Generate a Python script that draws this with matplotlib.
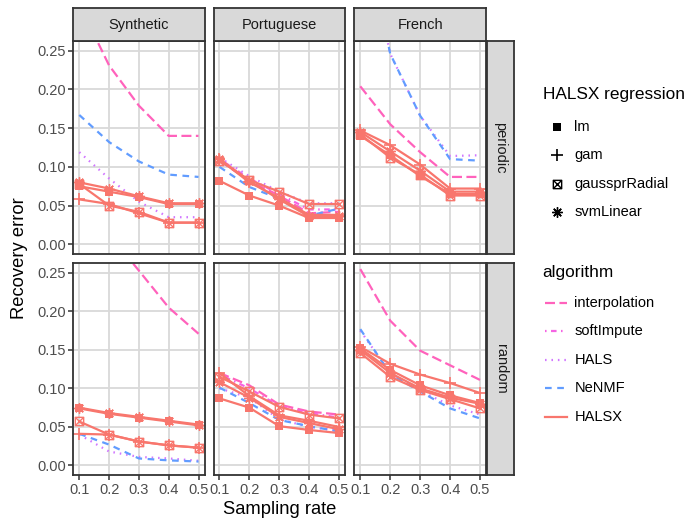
import matplotlib
matplotlib.use("Agg")
import matplotlib.pyplot as plt
from matplotlib.path import Path

plt.rcParams['font.family'] = ['Liberation Sans', 'DejaVu Sans']

# ---- data ----
rates = [0.1, 0.2, 0.3, 0.4, 0.5]
datasets = ["Synthetic", "Portuguese", "French"]
samplings = ["periodic", "random"]

# each list: [Synthetic, Portuguese, French]
interpolation_periodic = [[0.31, 0.231, 0.179, 0.140, 0.140],
                          [0.108, 0.082, 0.063, 0.040, 0.042],
                          [0.204, 0.155, 0.119, 0.087, 0.087]]
softimpute_periodic = [[0.40, 0.36, 0.33, 0.31, 0.30],
                       [0.110, 0.085, 0.065, 0.045, 0.045],
                       [0.38, 0.34, 0.31, 0.30, 0.30]]
hals_periodic = [[0.119, 0.085, 0.055, 0.035, 0.035],
                 [0.112, 0.088, 0.068, 0.053, 0.053],
                 [0.43, 0.246, 0.166, 0.114, 0.115]]
nenmf_periodic = [[0.167, 0.132, 0.107, 0.090, 0.087],
                  [0.100, 0.074, 0.059, 0.037, 0.046],
                  [0.43, 0.246, 0.166, 0.110, 0.108]]
lm_periodic = [[0.075, 0.068, 0.061, 0.052, 0.052],
               [0.082, 0.063, 0.050, 0.034, 0.034],
               [0.140, 0.115, 0.088, 0.065, 0.065]]
gam_periodic = [[0.058, 0.052, 0.040, 0.028, 0.028],
                [0.110, 0.080, 0.060, 0.038, 0.038],
                [0.147, 0.128, 0.103, 0.072, 0.072]]
gauss_periodic = [[0.078, 0.050, 0.042, 0.028, 0.028],
                  [0.108, 0.083, 0.068, 0.052, 0.052],
                  [0.142, 0.112, 0.090, 0.063, 0.063]]
svm_periodic = [[0.080, 0.072, 0.062, 0.053, 0.053],
                [0.110, 0.082, 0.058, 0.036, 0.036],
                [0.145, 0.120, 0.095, 0.068, 0.068]]

interpolation_random = [[0.35, 0.30, 0.253, 0.205, 0.171],
                        [0.120, 0.104, 0.079, 0.070, 0.066],
                        [0.255, 0.188, 0.149, 0.130, 0.111]]
softimpute_random = [[0.45, 0.42, 0.40, 0.38, 0.37],
                     [0.118, 0.100, 0.077, 0.068, 0.062],
                     [0.40, 0.36, 0.33, 0.31, 0.30]]
hals_random = [[0.040, 0.018, 0.011, 0.009, 0.006],
               [0.100, 0.088, 0.060, 0.050, 0.045],
               [0.175, 0.120, 0.097, 0.078, 0.066]]
nenmf_random = [[0.041, 0.027, 0.009, 0.0065, 0.005],
                [0.101, 0.081, 0.059, 0.051, 0.044],
                [0.177, 0.119, 0.096, 0.074, 0.061]]
lm_random = [[0.074, 0.067, 0.062, 0.057, 0.052],
             [0.087, 0.075, 0.051, 0.046, 0.042],
             [0.152, 0.124, 0.104, 0.091, 0.081]]
gam_random = [[0.041, 0.040, 0.031, 0.026, 0.023],
              [0.120, 0.090, 0.065, 0.058, 0.050],
              [0.154, 0.132, 0.118, 0.107, 0.094]]
gauss_random = [[0.057, 0.040, 0.031, 0.026, 0.023],
                [0.115, 0.096, 0.076, 0.066, 0.061],
                [0.146, 0.115, 0.098, 0.086, 0.074]]
svm_random = [[0.075, 0.068, 0.063, 0.058, 0.053],
              [0.108, 0.088, 0.063, 0.055, 0.047],
              [0.150, 0.120, 0.100, 0.088, 0.080]]

algorithms = ["interpolation", "softImpute", "HALS", "NeNMF", "HALSX"]
regressions = ["lm", "gam", "gaussprRadial", "svmLinear"]

# ---- styles ----
W, H = 692, 520
LW = 1.6
alg_colors = {"interpolation": "#FF62BC", "softImpute": "#F564E3",
              "HALS": "#D177FF", "NeNMF": "#619CFF", "HALSX": "#F8766D"}
alg_ls = {"interpolation": (0, (4.5, 2.0)), "softImpute": (0, (0.7, 2.0, 2.5, 2.0)),
          "HALS": (0, (0.7, 2.2)), "NeNMF": (0, (3.0, 2.5)), "HALSX": "-"}

boxx = Path([(-1, -1), (1, -1), (1, 1), (-1, 1), (-1, -1), (-1, -1), (1, 1), (-1, 1), (1, -1)],
            [Path.MOVETO, Path.LINETO, Path.LINETO, Path.LINETO, Path.CLOSEPOLY,
             Path.MOVETO, Path.LINETO, Path.MOVETO, Path.LINETO])
reg_marker = {"lm": dict(marker="s", ms=5.5, mew=0),
              "gam": dict(marker="+", ms=8, mew=1.2, fillstyle="none"),
              "gaussprRadial": dict(marker=boxx, ms=6, mew=1.0, fillstyle="none"),
              "svmLinear": dict(marker=(8, 2, 0), ms=7.5, mew=1.0)}

baselines = {"periodic": [interpolation_periodic, softimpute_periodic, hals_periodic, nenmf_periodic],
             "random": [interpolation_random, softimpute_random, hals_random, nenmf_random]}
halsx = {"periodic": [lm_periodic, gam_periodic, gauss_periodic, svm_periodic],
         "random": [lm_random, gam_random, gauss_random, svm_random]}

fig = plt.figure(figsize=(W / 100, H / 100), dpi=100)


def px_axes(x0, y0, x1, y1):
    return fig.add_axes([x0 / W, 1 - y1 / H, (x1 - x0) / W, (y1 - y0) / H])


col_x = [(73.3, 204.5), (213.5, 344.8), (354.3, 486.0)]
row_y = [(41.0, 254.0), (263.3, 475.0)]
border = "#333333"
grid_c = "#D9D9D9"

for r, samp in enumerate(samplings):
    for c, ds in enumerate(datasets):
        ax = px_axes(col_x[c][0], row_y[r][0], col_x[c][1], row_y[r][1])
        ax.set_xlim(0.08, 0.52)
        ax.set_ylim(-0.0125, 0.2625)
        ax.set_xticks(rates)
        ax.set_yticks([0.0, 0.05, 0.10, 0.15, 0.20, 0.25])
        ax.grid(True, color=grid_c, lw=1.3)
        ax.set_axisbelow(True)
        for s in ax.spines.values():
            s.set_color(border)
            s.set_linewidth(1.3)
        ax.tick_params(colors=border, labelcolor="#4D4D4D", labelsize=10.5,
                       length=3.5, width=1.1, pad=2)
        if c == 0:
            ax.set_yticklabels(["0.00", "0.05", "0.10", "0.15", "0.20", "0.25"])
        else:
            ax.tick_params(axis="y", left=False, labelleft=False)
        if r == 1:
            ax.set_xticklabels(["0.1", "0.2", "0.3", "0.4", "0.5"])
        else:
            ax.tick_params(axis="x", bottom=False, labelbottom=False)

        for name, series in zip(algorithms[:4], baselines[samp]):
            ax.plot(rates, series[c], color=alg_colors[name], ls=alg_ls[name], lw=LW)
        for name, series in zip(regressions, halsx[samp]):
            ax.plot(rates, series[c], color=alg_colors["HALSX"], lw=LW,
                    mec=alg_colors["HALSX"], mfc=alg_colors["HALSX"], **reg_marker[name])

        if r == 0:
            sax = px_axes(col_x[c][0], 8.3, col_x[c][1], 41.0)
            sax.set_facecolor(grid_c)
            sax.set_xticks([])
            sax.set_yticks([])
            for s in sax.spines.values():
                s.set_color(border)
                s.set_linewidth(1.3)
            sax.text(0.5, 0.5, ds, ha="center", va="center", fontsize=10.5,
                     color="#1A1A1A", transform=sax.transAxes)
    rax = px_axes(486.7, row_y[r][0], 514.3, row_y[r][1])
    rax.set_facecolor(grid_c)
    rax.set_xticks([])
    rax.set_yticks([])
    for s in rax.spines.values():
        s.set_color(border)
        s.set_linewidth(1.3)
    rax.text(0.5, 0.5, samp, ha="center", va="center", rotation=-90, fontsize=10.5,
             color="#1A1A1A", transform=rax.transAxes)

fig.text(20 / W, 1 - 258 / H, "Recovery error", rotation=90, ha="center", va="center",
         fontsize=13.2)
fig.text(280 / W, 1 - 510 / H, "Sampling rate", ha="center", va="center", fontsize=13.2)

# ---- legends (drawn by hand in pixel space) ----
lax = fig.add_axes([0, 0, 1, 1], facecolor="none")
lax.set_xlim(0, W)
lax.set_ylim(H, 0)
lax.axis("off")

lax.text(542.7, 95, "HALSX regression", fontsize=12.4, va="center", ha="left")
for i, name in enumerate(regressions):
    y = 126.7 + i * 28.5
    lax.plot([556.7], [y], color="black", mec="black", mfc="black", **reg_marker[name])
    lax.text(574.3, y, name, fontsize=10.5, va="center", ha="left")

lax.text(542.7, 272.7, "algorithm", fontsize=12.4, va="center", ha="left")
for i, name in enumerate(algorithms):
    y = 302.7 + i * 28.5
    lax.plot([545, 567], [y, y], color=alg_colors[name], ls=alg_ls[name], lw=LW)
    lax.text(574.3, y, name, fontsize=10.5, va="center", ha="left")

fig.savefig("out.png", dpi=100)
